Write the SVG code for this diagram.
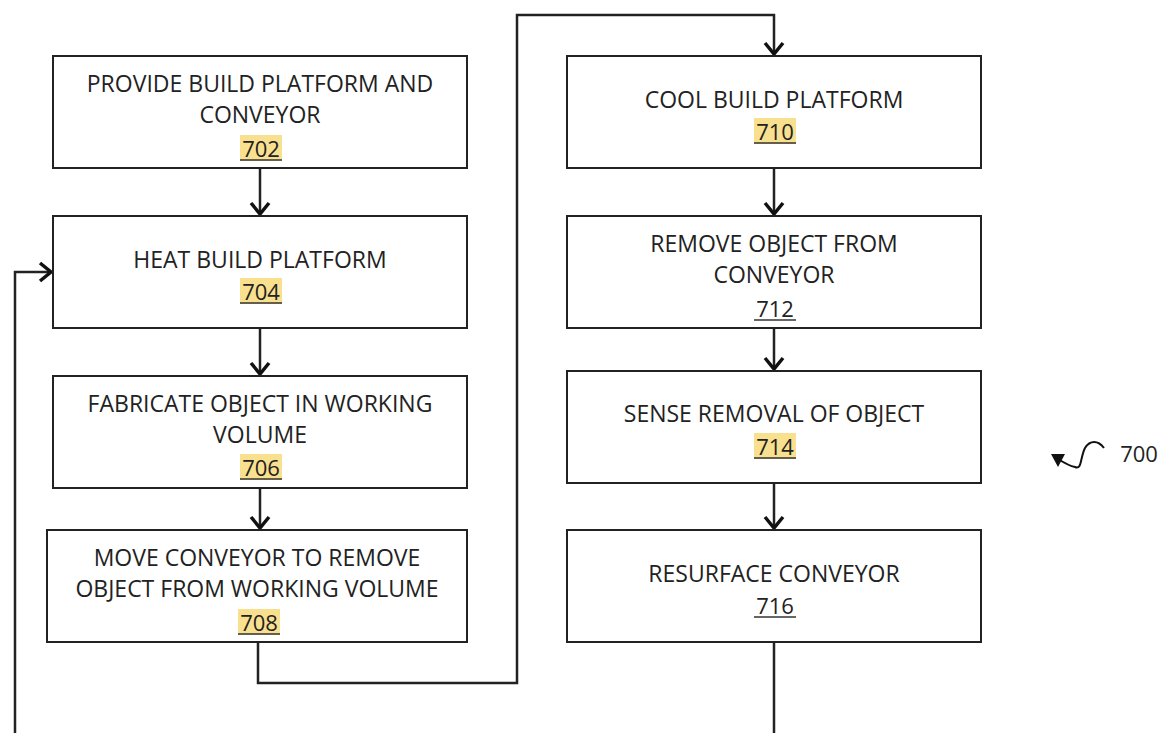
<svg xmlns="http://www.w3.org/2000/svg" width="1161" height="733" viewBox="0 0 1161 733">
<style>
.box{fill:#fff;stroke:#222;stroke-width:2}
.t{font-family:"Open Sans","Liberation Sans",sans-serif;font-size:23px;fill:#222;text-anchor:middle;dominant-baseline:central}
.n{font-size:22px}
.hl{fill:#f9e08f}
.ul{stroke:#333;stroke-width:1.5}
.c{fill:none;stroke:#222;stroke-width:2.5}
</style>
<defs>
<marker id="ah" markerWidth="20" markerHeight="22" refX="13" refY="11" orient="auto" markerUnits="userSpaceOnUse">
<path d="M2,2 L13,11 L2,20" fill="none" stroke="#111" stroke-width="3.5"/>
</marker>
</defs>
<g id="connectors">
<line class="c" x1="260" y1="168" x2="260" y2="214" marker-end="url(#ah)"/>
<line class="c" x1="260" y1="328" x2="260" y2="374" marker-end="url(#ah)"/>
<line class="c" x1="260" y1="488" x2="260" y2="528" marker-end="url(#ah)"/>
<polyline class="c" points="258,642 258,683 517,683 517,15 774,15 774,54" marker-end="url(#ah)"/>
<line class="c" x1="774" y1="168" x2="774" y2="214" marker-end="url(#ah)"/>
<line class="c" x1="774" y1="328" x2="774" y2="369" marker-end="url(#ah)"/>
<line class="c" x1="774" y1="483" x2="774" y2="528" marker-end="url(#ah)"/>
<line class="c" x1="774" y1="642" x2="774" y2="733"/>
<polyline class="c" points="15,733 15,272 51,272" marker-end="url(#ah)"/>
</g>
<g id="n702">
<rect class="box" x="53" y="56" width="414" height="112"/>
<text class="t" x="260" y="83">PROVIDE BUILD PLATFORM AND</text>
<text class="t" x="260" y="114">CONVEYOR</text>
<rect class="hl" x="240" y="135" width="42" height="26"/>
<text class="t n" x="261" y="148">702</text>
<line class="ul" x1="240" y1="160" x2="282" y2="160"/>
</g>
<g id="n704">
<rect class="box" x="53" y="216" width="414" height="112"/>
<text class="t" x="260" y="259">HEAT BUILD PLATFORM</text>
<rect class="hl" x="240" y="278" width="42" height="26"/>
<text class="t n" x="261" y="291">704</text>
<line class="ul" x1="240" y1="303" x2="282" y2="303"/>
</g>
<g id="n706">
<rect class="box" x="53" y="376" width="414" height="112"/>
<text class="t" x="260" y="403">FABRICATE OBJECT IN WORKING</text>
<text class="t" x="260" y="434">VOLUME</text>
<rect class="hl" x="240" y="454" width="42" height="26"/>
<text class="t n" x="261" y="467">706</text>
<line class="ul" x1="240" y1="479" x2="282" y2="479"/>
</g>
<g id="n708">
<rect class="box" x="47" y="530" width="420" height="112"/>
<text class="t" x="257" y="557">MOVE CONVEYOR TO REMOVE</text>
<text class="t" x="257" y="588">OBJECT FROM WORKING VOLUME</text>
<rect class="hl" x="238" y="609" width="42" height="26"/>
<text class="t n" x="259" y="622">708</text>
<line class="ul" x1="238" y1="634" x2="280" y2="634"/>
</g>
<g id="n710">
<rect class="box" x="567" y="56" width="414" height="112"/>
<text class="t" x="774" y="99">COOL BUILD PLATFORM</text>
<rect class="hl" x="754" y="118" width="42" height="26"/>
<text class="t n" x="775" y="131">710</text>
<line class="ul" x1="754" y1="143" x2="796" y2="143"/>
</g>
<g id="n712">
<rect class="box" x="567" y="216" width="414" height="112"/>
<text class="t" x="774" y="243">REMOVE OBJECT FROM</text>
<text class="t" x="774" y="274">CONVEYOR</text>
<text class="t n" x="775" y="308">712</text>
<line class="ul" x1="754" y1="320" x2="796" y2="320"/>
</g>
<g id="n714">
<rect class="box" x="567" y="371" width="414" height="112"/>
<text class="t" x="774" y="413">SENSE REMOVAL OF OBJECT</text>
<rect class="hl" x="754" y="433" width="42" height="26"/>
<text class="t n" x="775" y="446">714</text>
<line class="ul" x1="754" y1="458" x2="796" y2="458"/>
</g>
<g id="n716">
<rect class="box" x="567" y="530" width="414" height="112"/>
<text class="t" x="774" y="573">RESURFACE CONVEYOR</text>
<text class="t n" x="775" y="605">716</text>
<line class="ul" x1="754" y1="617" x2="796" y2="617"/>
</g>
<g id="ref700">
<path d="M1104,448 C1098,440 1090,440 1085,448 C1080,458 1082,470 1075,467 C1070,466 1066,464 1058,459" fill="none" stroke="#111" stroke-width="2"/>
<path d="M1051,454 L1065,454 L1058,467 Z" fill="#111"/>
<text class="t" x="1139" y="453" style="font-size:22px">700</text>
</g>
</svg>
